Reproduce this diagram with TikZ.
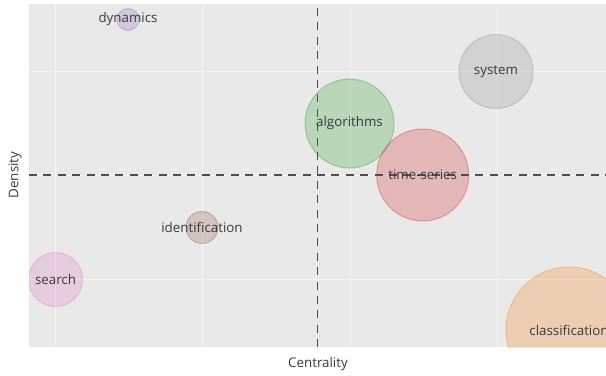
\documentclass[tikz,border=0pt]{standalone}
\usepackage{fontspec}
\setmainfont{Open Sans}
\usetikzlibrary{positioning}

\definecolor{plotbg}{HTML}{E9E9E9}
\definecolor{inkgray}{HTML}{3A3A3A}
\definecolor{tabgreen}{HTML}{2CA02C}
\definecolor{tabred}{HTML}{D62728}
\definecolor{tabpurple}{HTML}{9467BD}
\definecolor{tabbrown}{HTML}{8C564B}
\definecolor{tabpink}{HTML}{E377C2}
\definecolor{tabgray}{HTML}{8F8F8F}
\definecolor{taborange}{HTML}{FF7F0E}

\begin{document}
\begin{tikzpicture}[
	x=0.75pt, y=-0.75pt,
	font=\fontsize{10}{12}\selectfont,
		bubble/.style={
			circle,
			inner sep=0pt,
			fill=#1,
			draw=#1,
			fill opacity=0.25,
			draw opacity=0.35,
			line width=0.75pt
		},
		tag/.style={
			text=inkgray,
			inner sep=1pt
		},
		gridline/.style={
			white!55!plotbg,
			line width=0.6pt
		},
		quadrant/.style={
			inkgray!90,
			line width=1.3pt,
			dash pattern=on 6pt off 4.8pt
		}
	]
	\useasboundingbox (0,0) rectangle (606,375);
	% Plot area and grid
	\fill[plotbg] (29,4) rectangle (606,347);
	\foreach \gx in {55,202,350,497}
		\draw[gridline] (\gx,4) -- (\gx,347);
	\foreach \gy in {71.7,175.3,279}
		\draw[gridline] (29,\gy) -- (606,\gy);
	% Bubbles
	\begin{scope}
		\clip (29,4) rectangle (606,347);
		\node[bubble=tabpurple, minimum size=16.5pt] (dynamics) at (128,19.5) {};
		\node[bubble=tabgray, minimum size=55.5pt] (system) at (496,71.5) {};
		\node[bubble=tabgreen, minimum size=66.75pt] (algorithms) at (349.5,123.5) {};
		\node[bubble=tabred, minimum size=69pt] (timeseries) at (422.7,175) {};
		\node[bubble=tabbrown, minimum size=24pt] (identification) at (202,227.5) {};
		\node[bubble=tabpink, minimum size=40.5pt] (search) at (55.5,279.5) {};
		\node[bubble=taborange, minimum size=94.5pt] (classification) at (569,330) {};
	\end{scope}
	% Quadrant lines
	\coordinate (vtop) at (317.5,8);
	\coordinate (vbot) at (317.5,347);
	\coordinate (hleft) at (29,175.3);
	\coordinate (hright) at (606,175.3);
	\draw[quadrant] (vtop) -- (vbot);
	\draw[quadrant] (hleft) -- (hright);
	% Keyword labels
	\node[tag] (dynamics-t) at (dynamics) {dynamics};
	\node[tag] (system-t) at (system) {system};
	\node[tag] (algorithms-t) at (algorithms) {algorithms};
	\node[tag] (timeseries-t) at (timeseries) {time-series};
	\node[tag] (identification-t) at (identification) {identification};
	\node[tag] (search-t) at (search) {search};
	\node[tag] (classification-t) at (classification) {classification};
	% Axis titles
	\node[tag] (xtitle) at (318,364) {Centrality};
	\node[tag, rotate=90] (ytitle) at (15,175) {Density};
\end{tikzpicture}
\end{document}
